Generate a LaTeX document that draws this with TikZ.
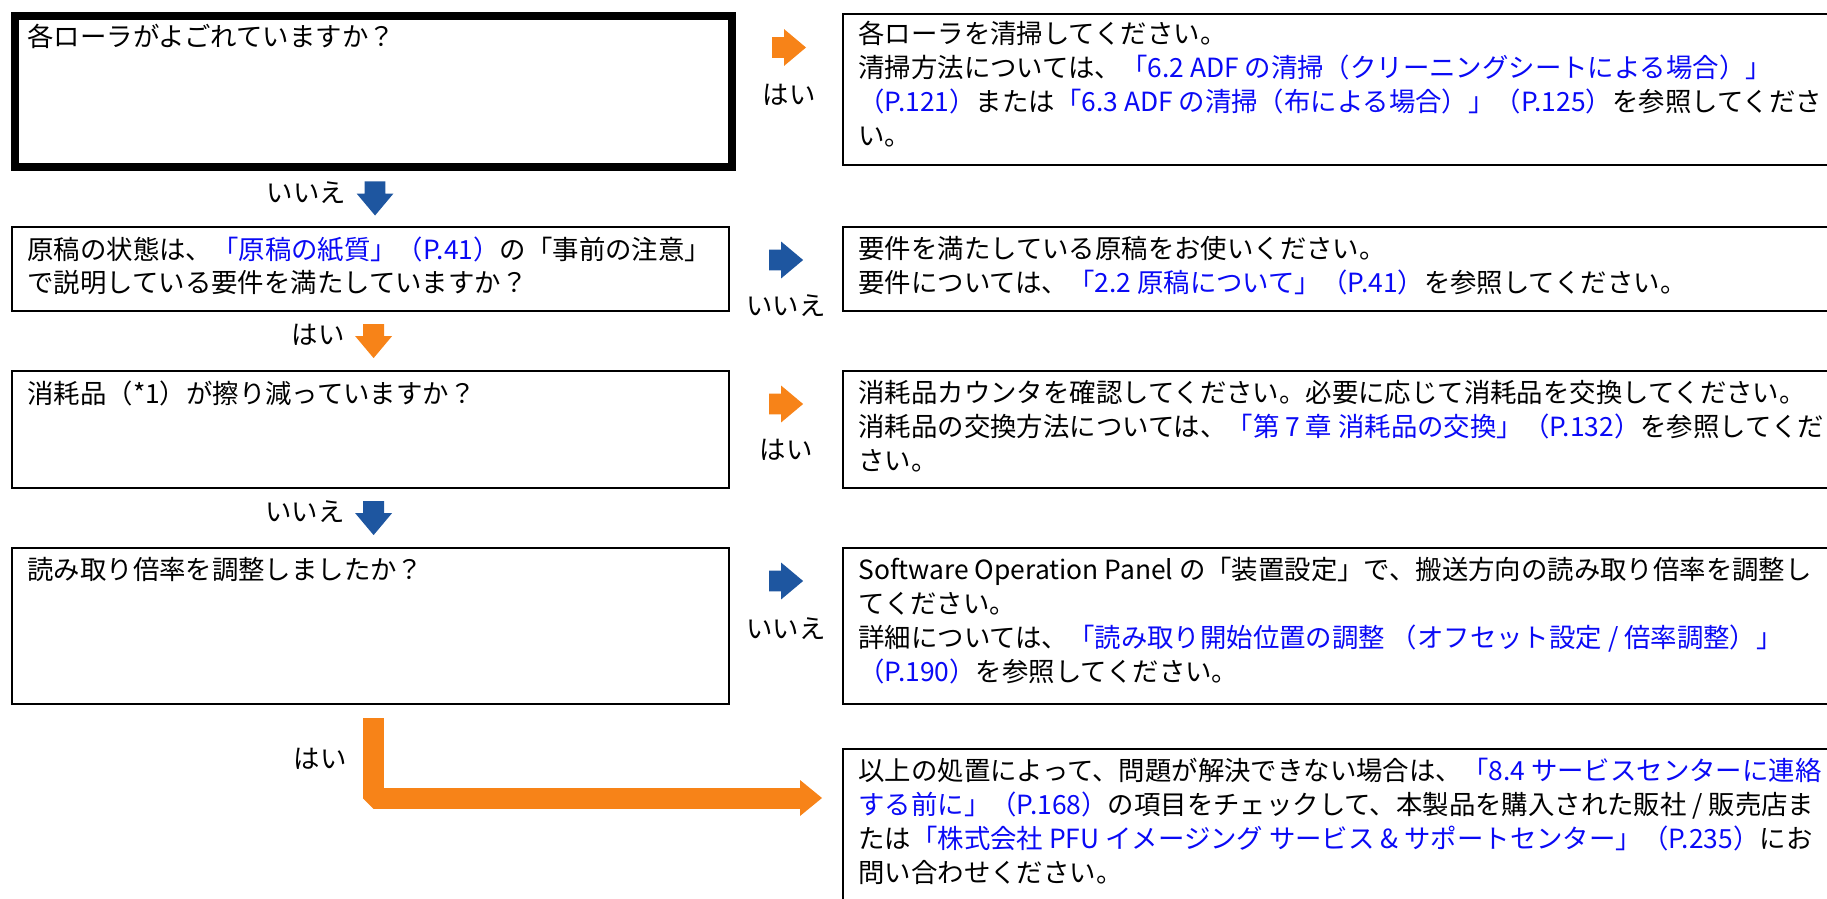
\documentclass[tikz,border=0pt]{standalone}
\usepackage{fontspec}
\setmainfont{Noto Sans CJK JP}
\usetikzlibrary{positioning,calc,shapes.arrows,arrows.meta}
\definecolor{arrorange}{RGB}{247,131,24}
\definecolor{arrblue}{RGB}{30,86,160}
\definecolor{linkblue}{RGB}{10,10,245}
\newcommand{\lk}[1]{\textcolor{linkblue}{#1}}
\tikzset{every node/.style={font=\fontsize{13.2pt}{17pt}\selectfont},
 qbox/.style={draw,line width=1.1pt,minimum width=358.5pt,anchor=north west,inner sep=0pt},
 abox/.style={draw,line width=1.1pt,minimum width=496.5pt,anchor=north west,inner sep=0pt},
 txt/.style={align=left,inner sep=0pt},
 blk/.style={single arrow,single arrow head extend=4pt,single arrow tip angle=80,inner sep=5pt,minimum height=17pt,outer sep=0pt,draw=none,anchor=tail},
 yesarrow/.style={blk,fill=arrorange},
 noarrow/.style={blk,fill=arrblue},
 down/.style={shape border rotate=270},
 yesline/.style={draw=arrorange,line width=10.5pt,line join=bevel,-{Triangle[length=11pt,width=18pt,line width=0pt]}}}

\begin{document}
\begin{tikzpicture}[x=0.5pt,y=-0.5pt]
\useasboundingbox (0,0) rectangle (1827,899);
\clip (0,0) rectangle (1827,899);
% Colonne des questions.
\node[qbox,line width=4pt,minimum height=75.5pt] (q1) at (11,12) {};
\node[qbox,minimum height=42pt] (q2) at (11,226) {};
\node[qbox,minimum height=58.5pt] (q3) at (11,370) {};
\node[qbox,minimum height=78pt] (q4) at (11,547) {};
% Colonne des remedes, coupee a droite.
\node[abox,minimum height=75.5pt] (a1) at (842,13) {};
\node[abox,minimum height=42pt] (a2) at (842,226) {};
\node[abox,minimum height=58.5pt] (a3) at (842,370) {};
\node[abox,minimum height=78pt] (a4) at (842,547) {};
\node[abox,minimum height=81pt] (a5) at (842,748) {};
% Textes.
\node[txt,below right=6pt and 8pt of q1.north west] (tq1) {各ローラがよごれていますか？};
\node[txt,below right=5pt and 8pt of q2.north west] (tq2) {原稿の状態は、\lk{「原稿の紙質」（P.41）}の「事前の注意」\\で説明している要件を満たしていますか？};
\node[txt,below right=5pt and 8pt of q3.north west] (tq3) {消耗品（*1）が擦り減っていますか？};
\node[txt,below right=5pt and 8pt of q4.north west] (tq4) {読み取り倍率を調整しましたか？};
\node[txt,below right=4pt and 8pt of a1.north west] (ta1) {各ローラを清掃してください。\\清掃方法については、\lk{「6.2 ADF の清掃（クリーニングシートによる場合）」}\\\lk{（P.121）}または\lk{「6.3 ADF の清掃（布による場合）」（P.125）}を参照してくださ\\い。};
\node[txt,below right=5pt and 8pt of a2.north west] (ta2) {要件を満たしている原稿をお使いください。\\要件については、\lk{「2.2 原稿について」（P.41）}を参照してください。};
\node[txt,below right=5pt and 8pt of a3.north west] (ta3) {消耗品カウンタを確認してください。必要に応じて消耗品を交換してください。\\消耗品の交換方法については、\lk{「第 7 章 消耗品の交換」（P.132）}を参照してくだ\\さい。};
\node[txt,below right=5pt and 8pt of a4.north west] (ta4) {Software Operation Panel の「装置設定」で、搬送方向の読み取り倍率を調整し\\てください。\\詳細については、\lk{「読み取り開始位置の調整 （オフセット設定 / 倍率調整）」}\\\lk{（P.190）}を参照してください。};
\node[txt,below right=5pt and 8pt of a5.north west] (ta5) {以上の処置によって、問題が解決できない場合は、\lk{「8.4 サービスセンターに連絡}\\\lk{する前に」（P.168）}の項目をチェックして、本製品を購入された販社 / 販売店ま\\たは\lk{「株式会社 PFU イメージング サービス \& サポートセンター」（P.235）}にお\\問い合わせください。};
% Fleches horizontales et leurs reponses.
\node[yesarrow] (r1) at ($(q1.north east)!.5!(a1.north west)+(-17,35)$) {};
\node[noarrow] (r2) at ($(q2.north east)!.5!(a2.north west)+(-17,34)$) {};
\node[yesarrow] (r3) at ($(q3.north east)!.5!(a3.north west)+(-17,34)$) {};
\node[noarrow] (r4) at ($(q4.north east)!.5!(a4.north west)+(-17,34)$) {};
\node (lr1) at ($(r1.tail)+(17,47)$) {はい};
\node (lr2) at ($(r2.tail)+(17,46)$) {いいえ};
\node (lr3) at ($(r3.tail)+(17,46)$) {はい};
\node (lr4) at ($(r4.tail)+(17,48)$) {いいえ};
% Fleches verticales.
\node[noarrow,down] (d1) at ($(q1.south)!.5!(q2.north)+(3,-17)$) {};
\node[yesarrow,down] (d2) at ($(q2.south)!.5!(q3.north)+(3,-17)$) {};
\node[noarrow,down] (d3) at ($(q3.south)!.5!(q4.north)+(3,-17)$) {};
\node[anchor=east] (ld1) at ($(d1.tail)+(-22,11)$) {いいえ};
\node[anchor=east] (ld2) at ($(d2.tail)+(-22,11)$) {はい};
\node[anchor=east] (ld3) at ($(d3.tail)+(-22,11)$) {いいえ};
% Derniere fleche coudee vers le dernier cadre.
\draw[yesline] ($(q4.south)+(3,13)$) |- ($(a5.north west)+(-20,50)$);
\node[anchor=east] (ld4) at ($(q4.south)+(-17,54)$) {はい};
\end{tikzpicture}
\end{document}
